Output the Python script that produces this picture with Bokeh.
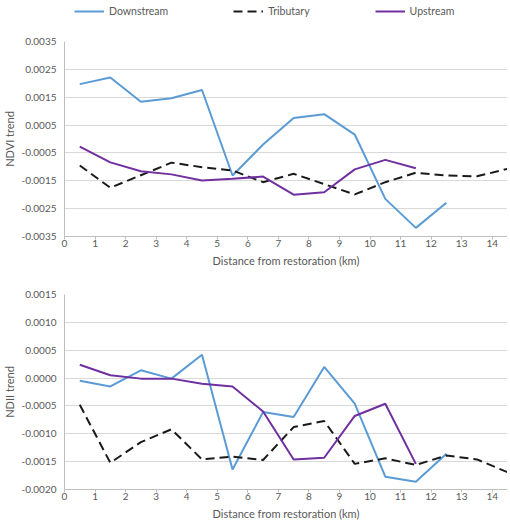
from bokeh.plotting import figure
from bokeh.models import Legend, LegendItem, FixedTicker, NumeralTickFormatter, Range1d
from bokeh.layouts import column
from bokeh.embed import file_html
from bokeh.resources import INLINE

# ---- data ----
distance = [0.5, 1.5, 2.5, 3.5, 4.5, 5.5, 6.5, 7.5, 8.5, 9.5, 10.5, 11.5, 12.5, 13.5, 14.5]
x_ticks = list(range(0, 15))

ndvi_downstream = [0.00197, 0.00221, 0.00134, 0.00146, 0.00176, -0.00131, -0.00020, 0.00075,
                   0.00089, 0.00016, -0.00215, -0.00319, -0.00229]
ndvi_tributary = [-0.00095, -0.00175, -0.00130, -0.00085, -0.00101, -0.00113, -0.00155, -0.00125,
                  -0.00162, -0.00199, -0.00155, -0.00121, -0.00131, -0.00134, -0.00107]
ndvi_upstream = [-0.00027, -0.00084, -0.00116, -0.00127, -0.00149, -0.00143, -0.00135, -0.00200,
                 -0.00191, -0.00109, -0.00075, -0.00105]
ndvi_ticks = [-0.0035, -0.0025, -0.0015, -0.0005, 0.0005, 0.0015, 0.0025, 0.0035]

ndii_downstream = [-0.00005, -0.00015, 0.00014, -0.00001, 0.00042, -0.00164, -0.00061, -0.00070,
                   0.00020, -0.00046, -0.00177, -0.00186, -0.00136]
ndii_tributary = [-0.00048, -0.00152, -0.00115, -0.00092, -0.00146, -0.00141, -0.00147, -0.00088,
                  -0.00077, -0.00154, -0.00144, -0.00156, -0.00139, -0.00146, -0.00169]
ndii_upstream = [0.00024, 0.00005, -0.00001, -0.00001, -0.00010, -0.00015, -0.00060, -0.00146,
                 -0.00143, -0.00068, -0.00046, -0.00154]
ndii_ticks = [-0.0020, -0.0015, -0.0010, -0.0005, 0.0, 0.0005, 0.0010, 0.0015]

series_names = ["Downstream", "Tributary", "Upstream"]
colors = ["#5B9BD5", "#1a1a1a", "#7030A0"]
dashes = ["solid", "9 5", "solid"]

FONT = "Lato"
TEXT_COLOR = "#595959"


def make_fig(top, bottom, yr, yticks, ylabel, series):
    p = figure(frame_width=443, frame_height=195, output_backend="svg", toolbar_location=None,
               x_range=Range1d(0, 14.5), y_range=Range1d(*yr),
               min_border_left=62, min_border_right=0, min_border_top=top,
               min_border_bottom=bottom)
    p.outline_line_color = None
    p.xgrid.grid_line_color = None
    p.ygrid.grid_line_color = "#d9d9d9"
    p.ygrid.grid_line_width = 1
    p.xaxis.ticker = FixedTicker(ticks=x_ticks)
    p.yaxis.ticker = FixedTicker(ticks=yticks)
    p.yaxis.formatter = NumeralTickFormatter(format="0.0000")
    for ax in (p.xaxis, p.yaxis):
        ax.axis_line_color = "#bfbfbf"
        ax.axis_line_width = 1
        ax.major_label_text_font = FONT
        ax.major_label_text_font_size = "10px"
        ax.major_label_text_color = TEXT_COLOR
        ax.axis_label_text_font = FONT
        ax.axis_label_text_font_size = "11px"
        ax.axis_label_text_font_style = "normal"
        ax.axis_label_text_color = TEXT_COLOR
        ax.minor_tick_line_color = None
    p.xaxis.major_tick_line_color = "#bfbfbf"
    p.xaxis.major_tick_in = 0
    p.xaxis.major_tick_out = 3
    p.xaxis.major_label_standoff = 0
    p.xaxis.axis_label_standoff = 4
    p.yaxis.major_tick_line_color = None
    p.yaxis.major_tick_in = 0
    p.yaxis.major_tick_out = 0
    p.yaxis.major_label_standoff = 8
    p.yaxis.axis_label_standoff = 2
    p.xaxis.axis_label = "Distance from restoration (km)"
    p.yaxis.axis_label = ylabel
    for vals, c, d in zip(series, colors, dashes):
        p.line(distance[:len(vals)], vals, line_color=c, line_width=2, line_dash=d)
    return p


p1 = make_fig(19, 32, (-0.0035, 0.0035), ndvi_ticks, "NDVI trend",
              [ndvi_downstream, ndvi_tributary, ndvi_upstream])
p2 = make_fig(25, 35, (-0.0020, 0.0015), ndii_ticks, "NDII trend",
              [ndii_downstream, ndii_tributary, ndii_upstream])

# legend strip on top (its own small plot; key lines hold no visible points)
lg = figure(width=505, height=22, output_backend="svg", toolbar_location=None,
            x_range=Range1d(0, 1), y_range=Range1d(0, 1),
            x_axis_location=None, y_axis_location=None,
            min_border_left=0, min_border_right=0, min_border_top=0, min_border_bottom=0)
lg.grid.visible = False
lg.outline_line_color = None
nan = float("nan")
key_renderers = [lg.line(x=[nan], y=[nan], line_color=c, line_width=2, line_dash=d)
                 for c, d in zip(colors, dashes)]
legend = Legend(items=[LegendItem(label=n, renderers=[r]) for n, r in zip(series_names, key_renderers)],
                orientation="horizontal", location=(10, 4),
                glyph_width=30, glyph_height=14, label_height=14, label_standoff=5,
                spacing=65, padding=0, margin=0,
                label_text_font=FONT, label_text_font_size="10.5px",
                label_text_color=TEXT_COLOR,
                background_fill_alpha=0, border_line_color=None)
lg.add_layout(legend, "center")

layout = column(lg, p1, p2, spacing=0)
open("out.html", "w").write(file_html(layout, INLINE))
